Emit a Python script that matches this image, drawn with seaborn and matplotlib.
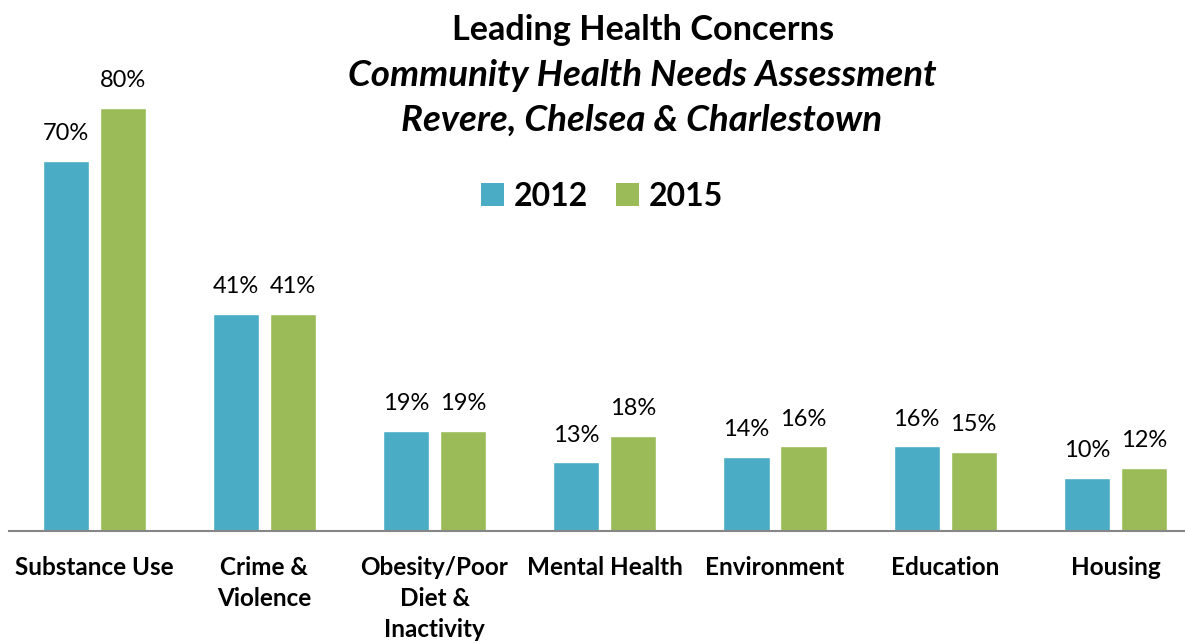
import numpy as np
import pandas as pd
import matplotlib
matplotlib.use('Agg')
import matplotlib.pyplot as plt
from matplotlib.patches import Patch
import seaborn as sns

# data
categories = ['Substance Use', 'Crime &\nViolence', 'Obesity/Poor\nDiet &\nInactivity',
              'Mental Health', 'Environment', 'Education', 'Housing']
years = ['2012', '2015']
vals_2012 = [70, 41, 19, 13, 14, 16, 10]
vals_2015 = [80, 41, 19, 18, 16, 15, 12]
colors = ['#4BACC6', '#9BBB59']

df = pd.DataFrame({
    'category': categories * 2,
    'year': [years[0]] * len(categories) + [years[1]] * len(categories),
    'value': vals_2012 + vals_2015,
})

sns.set_theme(style='white')
plt.rcParams['font.family'] = ['Lato', 'DejaVu Sans']
plt.rcParams['text.color'] = 'black'
plt.rcParams['xtick.color'] = 'black'

fig = plt.figure(figsize=(11.85, 6.43), dpi=100)
# axes placed in pixels: baseline at y=531, starts at x=9
W, H = 1185, 643
ax = fig.add_axes([9 / W, (H - 531) / H, (1200.5 - 9) / W, 531 / H])

sns.barplot(data=df, x='category', y='value', hue='year', palette=colors,
            width=0.67, gap=0.19, ax=ax, legend=False, saturation=1)

ax.set_xlim(-0.5, 6.5)
ax.set_ylim(0, 100.4)
ax.set_xlabel('')
ax.set_ylabel('')
ax.set_yticks([])
for s in ['top', 'right', 'left']:
    ax.spines[s].set_visible(False)
ax.spines['bottom'].set_color('#868686')
ax.spines['bottom'].set_linewidth(1.5)
ax.tick_params(axis='x', length=0, pad=18)
for lbl in ax.get_xticklabels():
    lbl.set_fontsize(17.5)
    lbl.set_fontweight('bold')
    lbl.set_color('black')
    lbl.set_verticalalignment('top')
    lbl.set_linespacing(1.42)

for cont in ax.containers:
    ax.bar_label(cont, labels=[f'{int(v)}%' for v in cont.datavalues],
                 padding=12, fontsize=17, color='black')

# titles
fig.text(643 / W, 1 - 30 / H, 'Leading Health Concerns', ha='center', va='center',
         fontsize=24.7, fontweight='bold')
fig.text(642 / W, 1 - 75 / H, 'Community Health Needs Assessment', ha='center', va='center',
         fontsize=26.5, fontweight='bold', fontstyle='italic')
fig.text(642 / W, 1 - 120 / H, 'Revere, Chelsea & Charlestown', ha='center', va='center',
         fontsize=26.5, fontweight='bold', fontstyle='italic')

handles = [Patch(facecolor=c, edgecolor='none') for c in colors]
leg = fig.legend(handles, years, loc='center', bbox_to_anchor=(602 / W, 1 - 196 / H),
                 ncol=2, frameon=False, prop={'size': 23, 'weight': 'bold'},
                 handlelength=0.72, handleheight=0.72, handletextpad=0.3,
                 columnspacing=0.9)

fig.savefig('out.png', dpi=100)
